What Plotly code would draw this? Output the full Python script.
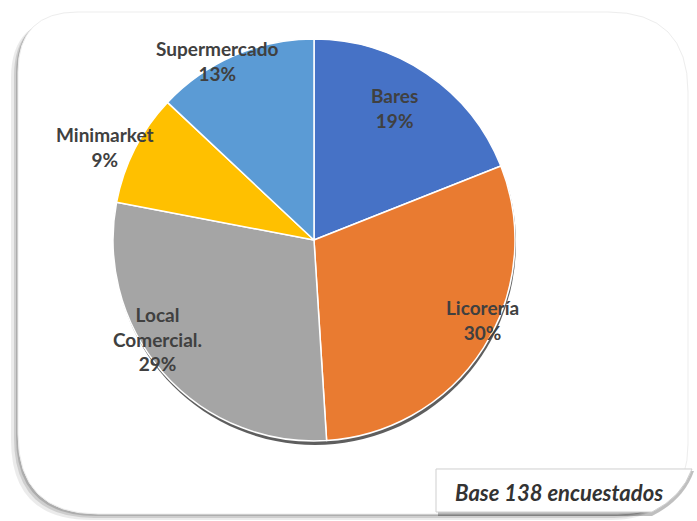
import math
import plotly.graph_objects as go

# Lugar de compra (porcentaje de encuestados)
categorias = ["Bares", "Licorería", "Local<br>Comercial.", "Minimarket", "Supermercado"]
porcentajes = [19, 30, 29, 9, 13]
colores = ["#4672C6", "#E97B31", "#A5A5A5", "#FFC000", "#5B9BD5"]
nota_base = "Base 138 encuestados"

W, H = 697, 521
CX, CY, R = 314, 240, 201  # pie centre and radius in pixels

# label placement: radial factor and angular nudge (degrees) per slice
label_radio = [0.77, 0.93, 0.92, 1.14, 1.01]
label_giro = [-3, -7, 9, -3, -5]


def px(x):
    return x / W


def py(y):
    return 1 - y / H


def path_px(cmds):
    out = []
    for c in cmds:
        if isinstance(c, str):
            out.append(c)
        else:
            out.append(f"{px(c[0]):.5f},{py(c[1]):.5f}")
    return " ".join(out)


def rounded_rect(l, t, r, b, rtl, rtr, rbr, rbl):
    return path_px([
        "M", (l + rtl, t), "L", (r - rtr, t), "Q", (r, t), (r, t + rtr),
        "L", (r, b - rbr), "Q", (r, b), (r - rbr, b),
        "L", (l + rbl, b), "Q", (l, b), (l, b - rbl),
        "L", (l, t + rtl), "Q", (l, t), (l + rtl, t), "Z",
    ])


fig = go.Figure()
fig.add_trace(go.Pie(
    labels=categorias,
    values=porcentajes,
    sort=False,
    direction="clockwise",
    rotation=0,
    textinfo="none",
    marker=dict(colors=colores, line=dict(color="#FFFFFF", width=1.5)),
    domain=dict(x=[px(CX - R), px(CX + R)], y=[py(CY + R), py(CY - R)]),
    showlegend=False,
    hovertemplate="%{label}: %{value}%<extra></extra>",
))

shapes = []
# card shadow and card
frame = (18, 12, 688, 514)
for dx, dy, alpha in [(-7, 6, 0.08), (-4, 4, 0.12), (-2, 2, 0.16)]:
    shapes.append(dict(
        type="path", xref="paper", yref="paper", layer="below",
        path=rounded_rect(frame[0] + dx, frame[1] + dy, frame[2] + dx, frame[3] + dy, 60, 80, 70, 80),
        fillcolor=f"rgba(0,0,0,{alpha})", line=dict(width=0),
    ))
shapes.append(dict(
    type="path", xref="paper", yref="paper", layer="below",
    path=rounded_rect(*frame, 60, 80, 70, 80),
    fillcolor="#FFFFFF", line=dict(color="#EDEDED", width=1),
))
# pie drop shadow
shapes.append(dict(
    type="circle", xref="paper", yref="paper", layer="below",
    x0=px(CX - R + 1), x1=px(CX + R + 1), y0=py(CY + R + 4), y1=py(CY - R + 2),
    fillcolor="rgba(40,40,40,0.75)", line=dict(width=0),
))
# footnote box with curled corner
shapes.append(dict(
    type="path", xref="paper", yref="paper",
    path=path_px(["M", (438, 471), "L", (694, 471), "Q", (684, 500), (652, 516), "L", (438, 516), "Z"]),
    fillcolor="rgba(0,0,0,0.25)", line=dict(width=0),
))
shapes.append(dict(
    type="path", xref="paper", yref="paper",
    path=path_px(["M", (436, 469), "L", (692, 469), "Q", (682, 497), (652, 512), "L", (436, 512), "Z"]),
    fillcolor="#FFFFFF", line=dict(color="#CFCFCF", width=1),
))

annotations = []
total = sum(porcentajes)
acum = 0
for cat, val, rf, giro in zip(categorias, porcentajes, label_radio, label_giro):
    mid = (acum + val / 2) / total * 360 + giro
    acum += val
    a = math.radians(mid)
    lx = CX + rf * R * math.sin(a)
    ly = CY - rf * R * math.cos(a)
    annotations.append(dict(
        x=px(lx), y=py(ly), xref="paper", yref="paper", showarrow=False,
        xanchor="center", yanchor="middle",
        text=f"<b>{cat}<br>{val}%</b>", align="center",
        font=dict(family="Lato, Open Sans, sans-serif", size=19, color="#404040"),
    ))

annotations.append(dict(
    x=px(559), y=py(492), xref="paper", yref="paper", showarrow=False,
    xanchor="center", yanchor="middle",
    text=f"<b><i>{nota_base}</i></b>",
    font=dict(family="Lato, Open Sans, sans-serif", size=22, color="#333333"),
))

fig.update_layout(
    width=W, height=H,
    margin=dict(l=0, r=0, t=0, b=0),
    paper_bgcolor="#FFFFFF", plot_bgcolor="#FFFFFF",
    shapes=shapes, annotations=annotations,
)

fig.write_html("out.html")
